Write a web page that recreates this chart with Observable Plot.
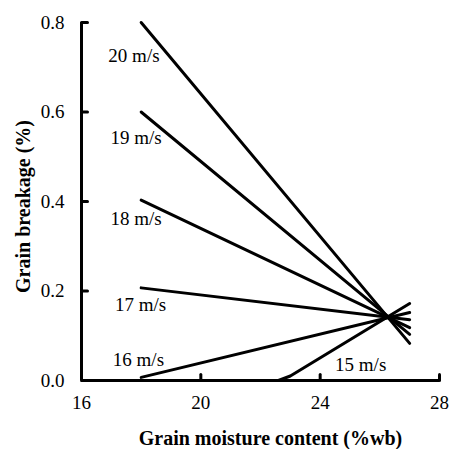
<!DOCTYPE html>
<html>
<head>
<meta charset="utf-8">
<script src="https://cdn.jsdelivr.net/npm/d3@7"></script>
<script src="https://cdn.jsdelivr.net/npm/@observablehq/plot@0.6"></script>
<style>
  body { margin: 0; background: white; }
  #chart svg { display: block; }
</style>
</head>
<body>
<div id="chart"></div>
<script>
// Air velocity series (m/s) and their fitted lines: moisture (%wb) vs breakage (%)
const speeds = ["20 m/s", "19 m/s", "18 m/s", "17 m/s", "16 m/s", "15 m/s"];
const moistureValues = [
  [18, 27],
  [18, 27],
  [18, 27],
  [18, 27],
  [18, 27],
  [22.6, 23.0, 27]
];
const breakageValues = [
  [0.800, 0.083],
  [0.600, 0.103],
  [0.403, 0.118],
  [0.207, 0.136],
  [0.007, 0.152],
  [0.000, 0.010, 0.172]
];

// Series label positions (moisture, breakage)
const labelX = [16.9, 16.97, 16.97, 17.12, 17.05, 24.5];
const labelY = [0.725, 0.542, 0.362, 0.168, 0.046, 0.034];

const xTicks = [16, 20, 24, 28];
const yTicks = [0.0, 0.2, 0.4, 0.6, 0.8];
const xTitle = "Grain moisture content (%wb)";
const yTitle = "Grain breakage (%)";

const lineData = speeds.flatMap((s, i) =>
  moistureValues[i].map((m, j) => ({speed: s, moisture: m, breakage: breakageValues[i][j]}))
);
const labelData = speeds.map((s, i) => ({speed: s, moisture: labelX[i], breakage: labelY[i]}));

const tickShape = {draw(context, l) { context.moveTo(0, 0); context.lineTo(0, -l); }};
const serif = "Liberation Serif";

const chart = Plot.plot({
  width: 450,
  height: 449,
  marginLeft: 81,
  marginRight: 11,
  marginTop: 22,
  marginBottom: 69,
  style: {fontFamily: serif, fontSize: "19px"},
  x: {domain: [16, 28], axis: null},
  y: {domain: [0, 0.8], axis: null},
  marks: [
    Plot.text(xTicks, {x: d => d, y: 0, text: d => String(d), lineAnchor: "top", textAnchor: "middle", dy: 15, fontSize: 19, fontFamily: serif, fill: "black"}),
    Plot.text(yTicks, {x: 16, y: d => d, text: d3.format(".1f"), textAnchor: "end", lineAnchor: "middle", dx: -17, fontSize: 19, fontFamily: serif, fill: "black"}),
    Plot.ruleX([16], {stroke: "black", strokeWidth: 3}),
    Plot.ruleY([0], {stroke: "black", strokeWidth: 3}),
    Plot.vector(yTicks, {x: 16, y: d => d, rotate: 90, length: 6, anchor: "start", shape: tickShape, stroke: "black", strokeWidth: 3}),
    Plot.vector(xTicks.slice(1), {x: d => d, y: 0, length: 6, anchor: "start", shape: tickShape, stroke: "black", strokeWidth: 3}),
    Plot.line(lineData, {x: "moisture", y: "breakage", z: "speed", stroke: "black", strokeWidth: 3}),
    Plot.text(labelData, {x: "moisture", y: "breakage", text: "speed", textAnchor: "start", fontSize: 19, fontFamily: serif, fill: "black"}),
    Plot.text([xTitle], {frameAnchor: "bottom", textAnchor: "middle", lineAnchor: "middle", dy: 58, dx: 10, fontWeight: "bold", fontSize: 20, fontFamily: serif, fill: "black"}),
    Plot.text([yTitle], {frameAnchor: "left", textAnchor: "middle", lineAnchor: "middle", rotate: -90, dx: -58, dy: 5, fontWeight: "bold", fontSize: 20, fontFamily: serif, fill: "black"})
  ]
});
document.getElementById("chart").appendChild(chart);
</script>
</body>
</html>
